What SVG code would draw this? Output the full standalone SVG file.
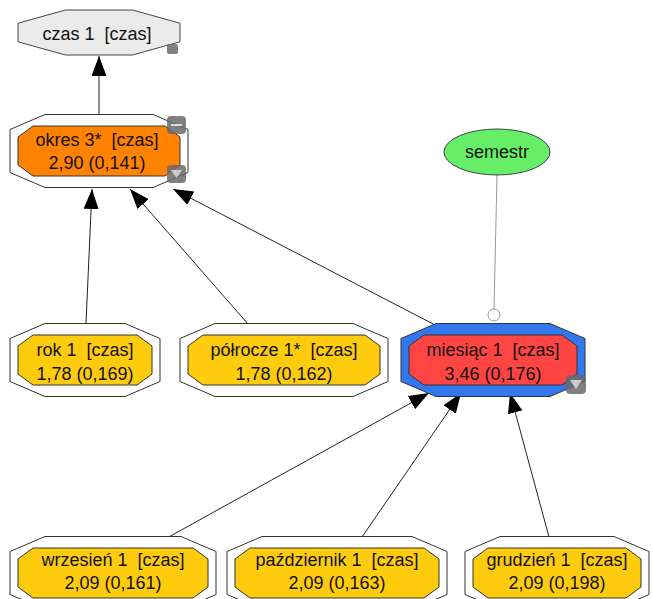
<svg xmlns="http://www.w3.org/2000/svg" width="653" height="599" viewBox="0 0 653 599">
<style>
  .lbl { font-family: "Liberation Sans", Arial, sans-serif; font-size: 18px; fill: #111; text-anchor: middle; white-space: pre; }
  .outer { fill: #ffffff; stroke: #333; stroke-width: 1; }
  .inner { stroke: #333; stroke-width: 1; }
  .yellow { fill: #ffcc0d; }
  .edge { stroke: #222; stroke-width: 1; fill: none; marker-end: url(#arrow); }
  .icon { fill: #6a6a6a; fill-opacity: 0.85; }
</style>
<defs>
  <marker id="arrow" markerUnits="userSpaceOnUse" markerWidth="20" markerHeight="15" refX="20" refY="7.5" orient="auto">
    <path d="M0,0 L20,7.5 L0,15 z" fill="#000"/>
  </marker>
</defs>
<rect width="653" height="599" fill="#ffffff"/>

<g id="connectors">
  <line class="edge" x1="99" y1="114" x2="99" y2="56"/>
  <line class="edge" x1="86" y1="323" x2="92" y2="189"/>
  <line class="edge" x1="248" y1="324" x2="130" y2="189"/>
  <line class="edge" x1="437" y1="326" x2="173" y2="189"/>
  <line class="edge" x1="165" y1="539" x2="429" y2="393"/>
  <line class="edge" x1="362" y1="537" x2="461" y2="393"/>
  <line class="edge" x1="549" y1="537" x2="510" y2="393"/>
  <line x1="497" y1="175" x2="494" y2="309" stroke="#999" stroke-width="1"/>
  <circle cx="494" cy="315" r="6" fill="#fff" stroke="#999" stroke-width="1"/>
</g>

<g id="czas1">
  <polygon points="65.5,10 132.5,10 180,23.2 180,41.8 132.5,55 65.5,55 18,41.8 18,23.2" fill="#ebebeb" stroke="#444"/>
  <text class="lbl" x="97" y="40" xml:space="preserve">czas 1  [czas]</text>
  <rect class="icon" x="167" y="44" width="11" height="10" rx="2"/>
</g>

<g id="okres3">
  <polygon class="outer" points="45,114.5 153,114.5 188,129.5 188,172.5 153,187.5 45,187.5 10,172.5 10,129.5"/>
  <polygon class="inner" fill="#ff8200" points="33,126 165,126 180,137 180,165 165,176 33,176 18,165 18,137"/>
  <text class="lbl" x="97" y="146" xml:space="preserve">okres 3*  [czas]</text>
  <text class="lbl" x="97" y="169">2,90 (0,141)</text>
  <rect class="icon" x="167" y="116" width="19" height="18" rx="4"/>
  <rect x="171" y="124" width="11" height="2" fill="#ddd"/>
  <rect class="icon" x="167" y="165" width="19" height="18" rx="4"/>
  <path d="M171,170 L182,170 L176.5,178 z" fill="#ccc"/>
</g>

<g id="semestr">
  <ellipse cx="497" cy="152" rx="53" ry="23" fill="#66ee66" stroke="#444"/>
  <text class="lbl" x="497" y="158">semestr</text>
</g>

<g id="rok1">
  <polygon class="outer" points="45,323.5 125,323.5 160,338.5 160,381.5 125,396.5 45,396.5 10,381.5 10,338.5"/>
  <polygon class="inner yellow" points="33,335 137,335 152,346 152,374 137,385 33,385 18,374 18,346"/>
  <text class="lbl" x="85" y="356" xml:space="preserve">rok 1  [czas]</text>
  <text class="lbl" x="85" y="380">1,78 (0,169)</text>
</g>

<g id="polrocze1">
  <polygon class="outer" points="215,323.5 353,323.5 388,338.5 388,381.5 353,396.5 215,396.5 180,381.5 180,338.5"/>
  <polygon class="inner yellow" points="203,335 365,335 380,346 380,374 365,385 203,385 188,374 188,346"/>
  <text class="lbl" x="284" y="356" xml:space="preserve">półrocze 1*  [czas]</text>
  <text class="lbl" x="284" y="380">1,78 (0,162)</text>
</g>

<g id="miesiac1">
  <polygon fill="#3377ee" stroke="#333" points="436,323.5 550,323.5 585,338.5 585,381.5 550,396.5 436,396.5 401,381.5 401,338.5"/>
  <polygon class="inner" fill="#ff4444" points="424,335 562,335 577,346 577,374 562,385 424,385 409,374 409,346"/>
  <text class="lbl" x="493" y="356" xml:space="preserve">miesiąc 1  [czas]</text>
  <text class="lbl" x="493" y="380">3,46 (0,176)</text>
  <rect class="icon" x="566" y="375" width="20" height="19" rx="4"/>
  <path d="M570,380 L582,380 L576,389 z" fill="#ccc"/>
</g>

<g id="wrzesien1">
  <polygon class="outer" points="45,536.5 181,536.5 216,551.5 216,594.5 181,609.5 45,609.5 10,594.5 10,551.5"/>
  <polygon class="inner yellow" points="33,548 193,548 208,559 208,587 193,598 33,598 18,587 18,559"/>
  <text class="lbl" x="113" y="566" xml:space="preserve">wrzesień 1  [czas]</text>
  <text class="lbl" x="113" y="589">2,09 (0,161)</text>
</g>

<g id="pazdziernik1">
  <polygon class="outer" points="262,536.5 412,536.5 447,551.5 447,594.5 412,609.5 262,609.5 227,594.5 227,551.5"/>
  <polygon class="inner yellow" points="250,548 424,548 439,559 439,587 424,598 250,598 235,587 235,559"/>
  <text class="lbl" x="337" y="566" xml:space="preserve">październik 1  [czas]</text>
  <text class="lbl" x="337" y="589">2,09 (0,163)</text>
</g>

<g id="grudzien1">
  <polygon class="outer" points="500,536.5 614,536.5 649,551.5 649,594.5 614,609.5 500,609.5 465,594.5 465,551.5"/>
  <polygon class="inner yellow" points="488,548 626,548 641,559 641,587 626,598 488,598 473,587 473,559"/>
  <text class="lbl" x="557" y="566" xml:space="preserve">grudzień 1  [czas]</text>
  <text class="lbl" x="557" y="589">2,09 (0,198)</text>
</g>
</svg>
